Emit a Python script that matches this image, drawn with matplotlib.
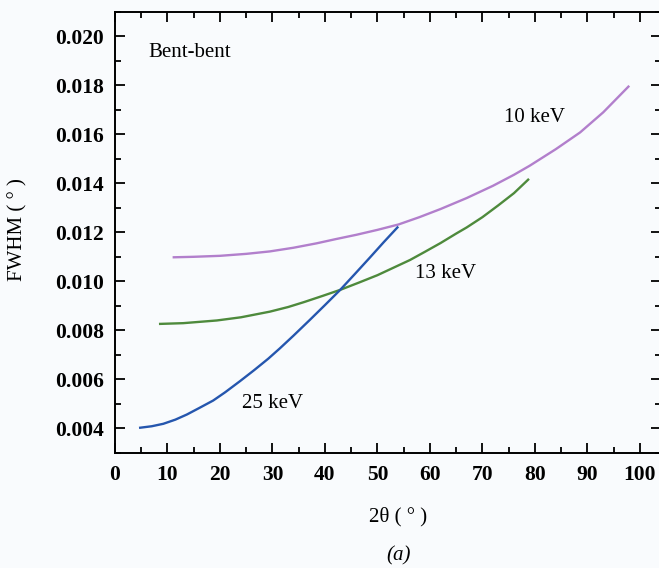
import matplotlib
matplotlib.use("Agg")
import matplotlib.pyplot as plt
from matplotlib.ticker import MultipleLocator, FormatStrFormatter

# Data
x_10 = [11.2, 15, 20, 25, 29.5, 34, 38.4, 42, 46, 50, 54, 58, 62, 67, 72, 76,
        79, 84, 88.6, 93, 97.8]
y_10 = [0.01098, 0.01100, 0.01104, 0.01112, 0.01122, 0.01137, 0.01155, 0.01172,
        0.0119, 0.0121, 0.01232, 0.01262, 0.01295, 0.0134, 0.0139, 0.01435,
        0.01472, 0.0154, 0.01608, 0.0169, 0.01795]

x_13 = [8.6, 13, 19.4, 24, 29.5, 33, 36, 39.5, 42.9, 46.5, 50, 53, 56.2, 59, 62,
        65, 67, 70, 73, 76, 78.7]
y_13 = [0.00826, 0.00829, 0.0084, 0.00853, 0.00876, 0.00895, 0.00915, 0.0094,
        0.00965, 0.00995, 0.01025, 0.01055, 0.01087, 0.0112, 0.01156, 0.01195,
        0.0122, 0.01262, 0.0131, 0.0136, 0.01415]

x_25 = [4.8, 7, 9.2, 11.5, 13.7, 16, 18.7, 21, 23.8, 26.5, 29.2, 31.4, 34, 37.1,
        40, 42.9, 45.7, 48.6, 51.2, 53.8]
y_25 = [0.00402, 0.00408, 0.00418, 0.00435, 0.00456, 0.00482, 0.00513, 0.00547,
        0.00592, 0.00637, 0.00684, 0.00726, 0.00778, 0.00842, 0.00903, 0.00965,
        0.0103, 0.01098, 0.0116, 0.0122]

labels = ["10 keV", "13 keV", "25 keV"]

plt.rcParams['font.family'] = ['Liberation Serif', 'DejaVu Serif']
plt.rcParams['mathtext.fontset'] = 'stix'

bg = '#f9fbfd'
fig = plt.figure(figsize=(6.59, 5.68), dpi=100, facecolor=bg)
ax = fig.add_axes([0.1745, 0.203, 0.8285, 0.776])
ax.set_facecolor(bg)

ax.plot(x_10, y_10, color='#b27fcc', lw=1.7, solid_joinstyle='round')
ax.plot(x_13, y_13, color='#4e8a3c', lw=1.7, solid_joinstyle='round')
ax.plot(x_25, y_25, color='#2556ae', lw=1.7, solid_joinstyle='round')

ax.set_xlim(0, 104)
ax.set_ylim(0.003, 0.021)
ax.xaxis.set_major_locator(MultipleLocator(10))
ax.xaxis.set_minor_locator(MultipleLocator(5))
ax.yaxis.set_major_locator(MultipleLocator(0.002))
ax.yaxis.set_minor_locator(MultipleLocator(0.001))
ax.yaxis.set_major_formatter(FormatStrFormatter('%.3f'))
ax.set_yticks([0.004, 0.006, 0.008, 0.010, 0.012, 0.014, 0.016, 0.018, 0.020])

ax.tick_params(which='both', direction='in', top=True, right=True, width=1.3)
ax.tick_params(which='major', length=7, labelsize=15.5)
ax.tick_params(axis='x', which='major', pad=9)
ax.tick_params(axis='y', which='major', pad=8)
ax.tick_params(which='minor', length=4)
for lab in ax.get_xticklabels() + ax.get_yticklabels():
    lab.set_fontweight('bold')
for s in ax.spines.values():
    s.set_linewidth(1.4)

fs = 15
ax.text(6.3, 0.01933, "Bent-bent", fontsize=fs, va='center', ha='left')
ax.text(80, 0.01668, labels[0], fontsize=fs, va='center', ha='center')
ax.text(62.9, 0.0103, labels[1], fontsize=fs, va='center', ha='center')
ax.text(30.1, 0.0050, labels[2], fontsize=fs, va='center', ha='center')

fig.text(18/659, 1 - 230/568, "FWHM ( ° )", rotation=90, fontsize=fs,
         ha='center', va='center')
fig.text(398/659, 1 - 517/568, "2θ ( ° )", fontsize=fs, ha='center', va='center')
fig.text(399/659, 1 - 556/568, "(a)", fontsize=fs, ha='center', va='center',
         style='italic')

fig.savefig("out.png", dpi=100, facecolor=bg)
